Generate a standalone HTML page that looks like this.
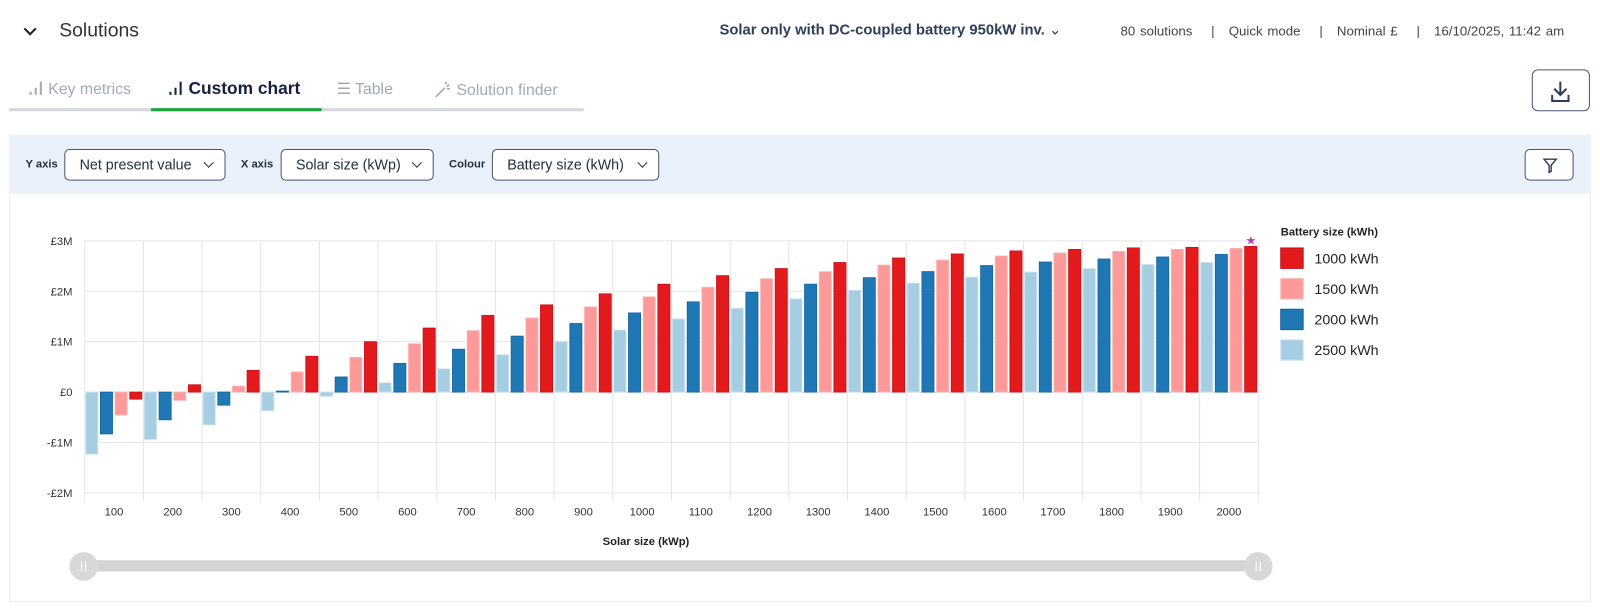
<!DOCTYPE html>
<html><head><meta charset="utf-8"><style>
body{margin:0;width:1600px;height:616px;background:#fff;font-family:"Liberation Sans",sans-serif;overflow:hidden;color:#1f2d3d}
#wrap{position:absolute;left:0;top:0;width:1568px;height:604px;transform:scale(1.0205);transform-origin:0 0}
.abs{position:absolute}
.sel{position:absolute;top:146px;height:31px;border:1px solid #4a5568;border-radius:5px;background:#fff;font-size:14px;line-height:29px;padding-left:14px;box-sizing:border-box;color:#1f2d3d}
.sel:after{content:"";position:absolute;right:12px;top:9px;width:6px;height:6px;border-right:1.4px solid #333;border-bottom:1.4px solid #333;transform:rotate(45deg)}
.lbl{position:absolute;top:155px;font-size:11px;font-weight:bold;color:#1f2d3d}
.tab{position:absolute;top:78px;font-size:15.5px;color:#a0aab8}
</style></head><body><div id="wrap">
<div class="abs" style="left:25px;top:24px;width:7px;height:7px;border-right:2px solid #222;border-bottom:2px solid #222;transform:rotate(45deg)"></div>
<div class="abs" style="left:58px;top:20px;font-size:19px;color:#333">Solutions</div>
<div class="abs" style="left:705px;top:22px;font-size:14.5px;font-weight:bold;color:#2c3e5a">Solar only with DC-coupled battery 950kW inv. <span style="font-weight:normal">&#8964;</span></div>
<div class="abs" style="left:1098px;top:23px;font-size:13px;color:#444;word-spacing:1px">80 solutions &nbsp;&nbsp;&nbsp;| &nbsp;&nbsp;Quick mode &nbsp;&nbsp;&nbsp;| &nbsp;&nbsp;Nominal £ &nbsp;&nbsp;&nbsp;| &nbsp;&nbsp;16/10/2025, 11:42 am</div>
<div class="tab" style="left:27px"><svg width="16" height="16" style="vertical-align:-2px"><path d="M3 15v-3M8 15v-7M13 15V2" stroke="#a0aab8" stroke-width="2"/></svg> Key metrics</div>
<div class="tab" style="left:164px;color:#142040;font-weight:bold;font-size:17px;top:77px"><svg width="16" height="16" style="vertical-align:-2px"><path d="M3 15v-3M8 15v-7M13 15V2" stroke="#142040" stroke-width="2"/></svg> Custom chart</div>
<div class="tab" style="left:330px">☰ Table</div>
<div class="tab" style="left:425px"><svg width="18" height="18" style="vertical-align:-3px"><path d="M2 17l9-9M12 2v3M15 5l-2 2M16 9h-3" stroke="#a0aab8" stroke-width="1.6"/></svg> Solution finder</div>
<div class="abs" style="left:9px;top:106px;width:563px;height:3px;background:#d5d9de"></div>
<div class="abs" style="left:148px;top:106px;width:167px;height:3px;background:#1aa33b"></div>
<div class="abs" style="left:1501px;top:68px;width:57px;height:41px;border:1px solid #4a5568;border-radius:6px;box-sizing:border-box">
<svg width="56" height="41"><path d="M27 11v13M21 18l6 6 6-6M19 24v6h16v-6" stroke="#2c3e5a" stroke-width="2" fill="none"/></svg></div>
<div class="abs" style="left:9px;top:132px;width:1550px;height:58px;background:#eaf1fb"></div>
<div class="lbl" style="left:25px">Y axis</div>
<div class="sel" style="left:63px;width:158px">Net present value</div>
<div class="lbl" style="left:236px">X axis</div>
<div class="sel" style="left:275px;width:150px">Solar size (kWp)</div>
<div class="lbl" style="left:440px">Colour</div>
<div class="sel" style="left:482px;width:164px">Battery size (kWh)</div>
<div class="abs" style="left:1494px;top:146px;width:48px;height:31px;border:1px solid #4a5568;border-radius:5px;box-sizing:border-box;background:#fff">
<svg width="48" height="31"><path d="M18 9h12l-5 6v6l-2 1v-7z" stroke="#2c3e5a" stroke-width="1.4" fill="none"/></svg></div>
<div class="abs" style="left:9px;top:190px;width:1550px;height:400px;border:1px solid #e8ebef;border-top:none;box-sizing:border-box"></div>
<svg id="chart" class="abs" style="left:0;top:0" width="1568" height="604"></svg>
</div>
<script>
const categories=[100,200,300,400,500,600,700,800,900,1000,1100,1200,1300,1400,1500,1600,1700,1800,1900,2000];
const seriesNames=["2500 kWh","2000 kWh","1500 kWh","1000 kWh"];
const s2500=[-1.23,-0.94,-0.65,-0.37,-0.085,0.185,0.46,0.74,1.0,1.23,1.45,1.66,1.85,2.02,2.16,2.28,2.38,2.45,2.53,2.57];
const s2000=[-0.83,-0.55,-0.26,0.02,0.30,0.57,0.85,1.11,1.36,1.57,1.79,1.98,2.14,2.27,2.39,2.51,2.58,2.64,2.68,2.73];
const s1500=[-0.455,-0.165,0.12,0.40,0.69,0.96,1.22,1.47,1.69,1.89,2.08,2.25,2.39,2.52,2.62,2.70,2.76,2.79,2.83,2.85];
const s1000=[-0.14,0.145,0.43,0.71,1.0,1.27,1.52,1.73,1.95,2.14,2.31,2.45,2.57,2.66,2.74,2.80,2.83,2.86,2.87,2.89];
const yTicks=[3,2,1,0,-1,-2];
const yTickLabels=["£3M","£2M","£1M","£0","-£1M","-£2M"];
const fills=["#a6cee3","#1f78b4","#fb9a99","#e31a1c"];
const strokes=["#c9e2ef","#1565a0","#fcb8b7","#c8101a"];
const X0=83,X1=1233,YT=236,YB=483,VMAX=3,VMIN=-2;
const gw=(X1-X0)/categories.length;
const y=v=>YT+(VMAX-v)/(VMAX-VMIN)*(YB-YT);
const xg=i=>X0+i*gw;
const svg=document.getElementById('chart');
const NS="http://www.w3.org/2000/svg";
function mk(t,a){const e=document.createElementNS(NS,t);for(const k in a)e.setAttribute(k,a[k]);svg.appendChild(e);return e;}
yTicks.forEach((t,i)=>{
 const l=mk('line',{x1:X0,x2:X1,y1:y(t),y2:y(t),stroke:t===0?'#cfd3d8':'#e3e5e8','stroke-width':1});
 
 
 const tx=mk('text',{x:71,y:y(t)+4,'text-anchor':'end','font-size':11,fill:'#333','font-family':'Liberation Sans'});
 tx.textContent=yTickLabels[i];
 
 
});
for(let i=0;i<=categories.length;i++){
 const l=mk('line',{x1:xg(i),x2:xg(i),y1:YT,y2:YB+8,stroke:'#e3e5e8','stroke-width':1});
 
 
}
const all=[s2500,s2000,s1500,s1000];
const bw=gw/4;
categories.forEach((c,i)=>{
 const tx=mk('text',{x:xg(i)+gw/2,y:505,'text-anchor':'middle','font-size':11,fill:'#333','font-family':'Liberation Sans'});
 tx.textContent=c;
 
 
 all.forEach((s,j)=>{
  const v=s[i];
  const r=mk('rect',{x:xg(i)+j*bw+1,width:bw-2.5,y:Math.min(y(v),y(0)),height:Math.max(Math.abs(y(v)-y(0)),0.8),fill:fills[j],stroke:strokes[j],'stroke-width':0.8});
  
  
 });
});
const star=mk('text',{x:xg(19)+bw*3.5,y:y(s1000[19])-2,'text-anchor':'middle','font-size':12,fill:'#b03fb8'});
star.textContent='★';


const xt=mk('text',{x:(X0+X1)/2-25,y:534,'text-anchor':'middle','font-size':11,'font-weight':'bold',fill:'#222','font-family':'Liberation Sans'});
xt.textContent='Solar size (kWp)';


const lt=mk('text',{x:1255,y:231,'font-size':11,'font-weight':'bold',fill:'#222','font-family':'Liberation Sans'});
lt.textContent='Battery size (kWh)';


[3,2,1,0].forEach((j,k)=>{
 const r=mk('rect',{x:1255,y:243+k*30,width:22,height:20,fill:fills[j],stroke:strokes[j]});
 
 
 const t=mk('text',{x:1288,y:258+k*30,'font-size':14,fill:'#222','font-family':'Liberation Sans'});
 t.textContent=seriesNames[j];
 
 
});
const track=mk('rect',{x:82,y:549,width:1151,height:11,rx:5,fill:'#d4d4d4'});


[82,1233].forEach(cx=>{
 const h=mk('circle',{cx:cx,cy:555,r:14,fill:'#d8d8d8'});
 
 
 mk('line',{x1:cx-2,x2:cx-2,y1:550,y2:560,stroke:'#fff','stroke-width':1});
 mk('line',{x1:cx+2,x2:cx+2,y1:550,y2:560,stroke:'#fff','stroke-width':1});
});
</script>
</body></html>
